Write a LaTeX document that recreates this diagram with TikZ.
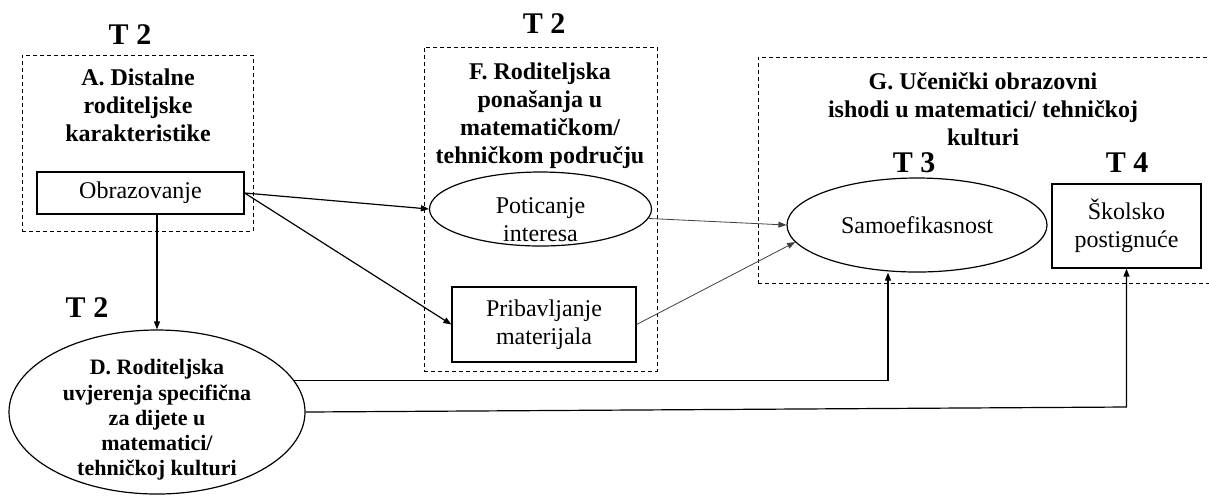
\documentclass[tikz,border=0pt]{standalone}
\usepackage{fontspec}
\setmainfont{Liberation Serif}
\usetikzlibrary{arrows.meta, fit, shapes.geometric}

\begin{document}
\begin{tikzpicture}[x=0.5pt, y=-0.5pt, >={Triangle[length=4pt, width=3pt]},
    every node/.style={align=center, font=\fontsize{12}{14}\selectfont},
    group/.style={draw, dashed, dash pattern=on 2pt off 1.5pt, line width=0.5pt, inner sep=0pt},
    heading/.style={font=\fontsize{12}{14}\selectfont\bfseries},
    wave/.style={font=\fontsize{15}{18}\selectfont\bfseries},
    box/.style={draw, line width=0.6pt, inner sep=0pt},
    oval/.style={draw, ellipse, line width=0.6pt, inner sep=0pt},
    link/.style={->, line width=0.6pt},
    weak/.style={->, line width=0.4pt, draw=black!75}]

\useasboundingbox (0,0) rectangle (1209,495);

% A. distal parent characteristics
\node[wave] (tA) at (130,35) {T 2};
\node[group, fit={(22,55) (253,231)}] (boxA) {};
\node[heading] (hA) at (138,105.5) {A. Distalne\\roditeljske\\karakteristike};
\node[box, minimum width=103.5pt, minimum height=21pt] (obr) at (140.5,193) {Obrazovanje};

% F. parent behaviours
\node[wave] (tF) at (544,24) {T 2};
\node[group, fit={(424,47) (657,371)}] (boxF) {};
\node[heading] (hF) at (540,115.5) {F. Roditeljska\\ponašanja u\\matematičkom/\\tehničkom području};
\node[oval, minimum width=111pt, minimum height=37pt,
      label={[yshift=-5.5pt]center:{Poticanje\\interesa}}] (pot) at (540.5,209) {};
\node[box, minimum width=92pt, minimum height=37.5pt] (pri) at (544,324.5) {Pribavljanje\\materijala};

% G. student outcomes
\node[group, fit={(758,57) (1216,283)}] (boxG) {};
\node[heading] (hG) at (983,109.5) {G. Učenički obrazovni\\ishodi u matematici/ tehničkoj\\kulturi};
\node[wave] (tS) at (914,163) {T 3};
\node[wave] (tK) at (1127,163) {T 4};
\node[oval, minimum width=130pt, minimum height=47pt] (samo) at (917,225) {Samoefikasnost};
\node[box, minimum width=74.5pt, minimum height=42pt] (sko) at (1126.5,226) {Školsko\\postignuće};

% D. parent beliefs
\node[wave] (tD) at (87,308) {T 2};
\node[oval, minimum width=148pt, minimum height=82pt,
      label={[yshift=-4pt, font=\fontsize{11}{12.6}\selectfont\bfseries]center:{D. Roditeljska\\uvjerenja specifična\\za dijete u\\matematici/\\tehničkoj kulturi}}]
      (dBel) at (157,412) {};

% paths from Obrazovanje
\draw[link] (obr.east) -- (pot.west);
\draw[link] (obr.east) -- (pri.west);
\draw[link] (obr.south -| dBel.north) -- (dBel.north);

% paths into Samoefikasnost
\draw[weak] (pot.-5) -- (samo.west);
\draw[weak] (pri.east) -- (samo.188);

% paths from D
\draw[link] (dBel.13) -| ([xshift=-14.5pt]samo.south);
\coordinate (kSko) at (1126.5,407);
\draw[link] (dBel.east) -- (kSko) -- (sko.south);

\end{tikzpicture}
\end{document}
